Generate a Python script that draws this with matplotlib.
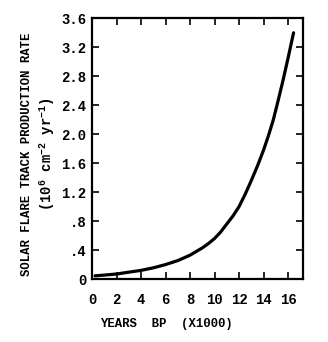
import matplotlib.pyplot as plt

plt.rcParams['font.family'] = 'Liberation Mono'
plt.rcParams['font.weight'] = 'bold'
plt.rcParams['mathtext.default'] = 'regular'

# years BP (x1000) and solar flare track production rate
years = [0.25, 1, 2, 3, 4, 5, 6, 7, 8, 9, 9.5, 10, 10.5, 11, 11.5, 12, 12.5, 13,
         13.5, 14, 14.4, 14.8, 15.2, 15.6, 16.0, 16.45]
rate = [0.045, 0.055, 0.07, 0.095, 0.12, 0.155, 0.2, 0.255, 0.33, 0.43, 0.49,
        0.56, 0.65, 0.76, 0.87, 1.0, 1.17, 1.36, 1.56, 1.78, 1.98, 2.2, 2.47,
        2.75, 3.05, 3.4]

xticks = [0, 2, 4, 6, 8, 10, 12, 14, 16]
yticks = [0, 0.4, 0.8, 1.2, 1.6, 2.0, 2.4, 2.8, 3.2, 3.6]
ytick_labels = ['0', '.4', '.8', '1.2', '1.6', '2.0', '2.4', '2.8', '3.2', '3.6']


def main():
    f = plt.figure(figsize=(3.28, 3.42), dpi=100)
    ax = f.add_axes([0.2805, 0.184, 0.6425, 0.7625])

    ax.plot(years, rate, color='black', lw=2.3, solid_capstyle='round')

    ax.set_xlim(0, 17.2)
    ax.set_ylim(0, 3.6)
    ax.set_xticks(xticks)
    ax.set_yticks(yticks)
    ax.set_yticklabels(ytick_labels)
    ax.tick_params(direction='in', length=5, width=1.2, top=True, right=True,
                   labelsize=10)
    ax.tick_params(axis='x', pad=10)
    ax.tick_params(axis='y', pad=4)
    for s in ax.spines.values():
        s.set_linewidth(1.6)

    f.text(0.508, 0.052, 'YEARS  BP  (X1000)', ha='center', va='center', fontsize=8.8)
    f.text(0.082, 0.55, 'SOLAR FLARE TRACK PRODUCTION RATE', rotation=90,
           ha='center', va='center', fontsize=8.8)
    f.text(0.143, 0.55, r'(10$^{6}$ cm$^{-2}$ yr$^{-1}$)', rotation=90,
           ha='center', va='center', fontsize=10)

    f.savefig('out.png', dpi=100)


if __name__ == "__main__": main()
